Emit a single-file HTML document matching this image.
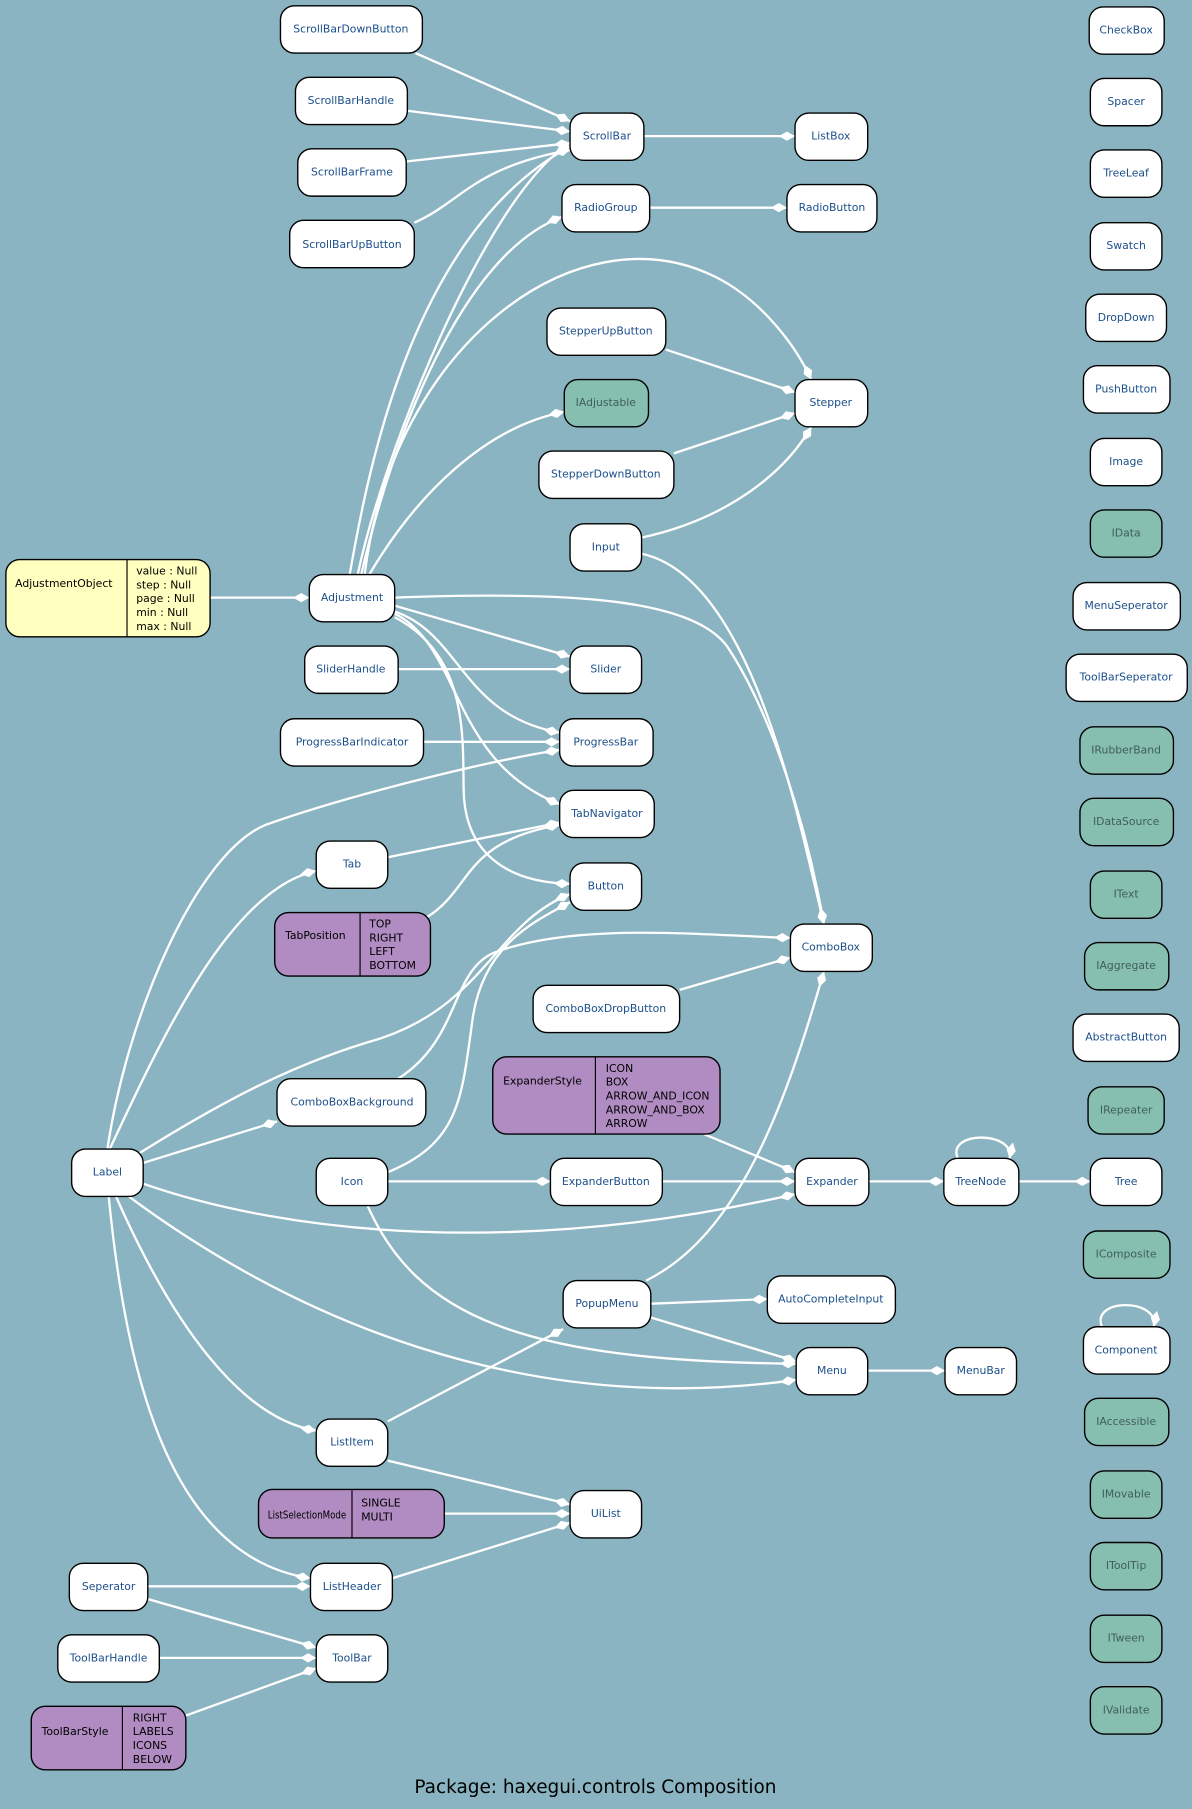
<!DOCTYPE html>
<html><head><meta charset="utf-8"><style>
html,body{margin:0;padding:0;background:#8ab4c1;}
svg{display:block}
text{font-family:"DejaVu Sans","Liberation Sans",sans-serif;font-size:9.4px;}
.n{fill:#fff;stroke:#000;stroke-width:1.2}
.g{fill:#86bfb0;stroke:#000;stroke-width:1.2}
.p{fill:#b08cc2;stroke:#000;stroke-width:1.2}
.y{fill:#ffffc0;stroke:#000;stroke-width:1.2}
.t{fill:#1b4f8a;text-anchor:middle;dominant-baseline:central}
.tg{fill:#3f5f5a;text-anchor:middle;dominant-baseline:central}
.k{fill:#000}
.e{fill:none;stroke:#fff;stroke-width:2;marker-end:url(#d)}
</style></head><body>
<svg width="1192" height="1809" viewBox="0 0 1033 1568" xmlns="http://www.w3.org/2000/svg">
<defs><marker id="d" markerUnits="userSpaceOnUse" markerWidth="16" markerHeight="10" refX="14" refY="5" orient="auto"><path d="M0,5 L7,1 L14,5 L7,9 z" fill="#fff"/></marker></defs>
<rect width="1033" height="1568" fill="#8ab4c1"/>
<g>
<path class="e" d="M360,46 L494,105"/>
<path class="e" d="M353,96 L494,114"/>
<path class="e" d="M352,140 L494,124"/>
<path class="e" d="M359,193 C400,175 410,145 494,130"/>
<path class="e" d="M303,498 C320,400 360,200 494,127"/>
<path class="e" d="M310,498 C330,400 420,170 494,124"/>
<path class="e" d="M313,498 C340,380 400,220 487,188"/>
<path class="e" d="M316,498 C340,300 500,180 620,240 C660,260 690,300 703,329"/>
<path class="e" d="M320,498 C360,430 420,370 489,357"/>
<path class="e" d="M577,303 L689,340"/>
<path class="e" d="M584,393 L689,358"/>
<path class="e" d="M556,466 C630,450 680,410 703,370"/>
<path class="e" d="M556,480 C650,500 690,700 714,801"/>
<path class="e" d="M342,518 C500,512 600,520 630,560 C670,620 700,720 714,801"/>
<path class="e" d="M342,525 L494,569"/>
<path class="e" d="M345,580 L494,580"/>
<path class="e" d="M342,530 C400,550 400,620 485,635"/>
<path class="e" d="M367,643 L485,643"/>
<path class="e" d="M342,532 C400,560 390,660 485,697"/>
<path class="e" d="M342,535 C410,570 400,650 402,690 C405,740 440,765 494,766"/>
<path class="e" d="M93,996 C110,880 170,740 230,715 C300,690 420,660 485,650"/>
<path class="e" d="M95,996 C140,900 200,770 274,755"/>
<path class="e" d="M336,743 L485,713"/>
<path class="e" d="M370,795 C410,770 400,730 485,715"/>
<path class="e" d="M120,1000 C200,950 260,920 330,900 C420,870 430,800 494,775"/>
<path class="e" d="M345,935 C400,900 390,840 430,825 C500,800 600,810 685,813"/>
<path class="e" d="M589,858 L685,830"/>
<path class="e" d="M336,1016 C400,990 400,950 410,880 C420,820 460,800 494,782"/>
<path class="e" d="M124,1008 L240,972"/>
<path class="e" d="M336,1024 L477,1024"/>
<path class="e" d="M574,1024 L689,1024"/>
<path class="e" d="M610,983 L689,1016"/>
<path class="e" d="M124,1026 C250,1070 450,1090 689,1035"/>
<path class="e" d="M753,1024 L818,1024"/>
<path class="e" d="M830,1004 C820,980 880,980 875,1004"/>
<path class="e" d="M883,1024 L945,1024"/>
<path class="e" d="M560,1110 C640,1070 680,960 714,842"/>
<path class="e" d="M564,1130 L665,1126"/>
<path class="e" d="M564,1142 L690,1180"/>
<path class="e" d="M318,1044 C360,1140 450,1180 690,1182"/>
<path class="e" d="M110,1036 C250,1140 450,1230 690,1196"/>
<path class="e" d="M752,1188 L819,1188"/>
<path class="e" d="M100,1036 C150,1150 210,1230 274,1240"/>
<path class="e" d="M336,1232 L488,1152"/>
<path class="e" d="M336,1266 L494,1304"/>
<path class="e" d="M385,1312 L494,1312"/>
<path class="e" d="M340,1368 L494,1320"/>
<path class="e" d="M94,1036 C110,1200 150,1350 269,1368"/>
<path class="e" d="M128,1375 L269,1375"/>
<path class="e" d="M128,1386 L274,1428"/>
<path class="e" d="M138,1437 L274,1437"/>
<path class="e" d="M161,1487 L274,1446"/>
<path class="e" d="M182,518 L268,518"/>
<path class="e" d="M558,118 L689,118"/>
<path class="e" d="M563,180 L682,180"/>
<path class="e" d="M955,1150 C945,1125 1005,1125 1000,1150"/>
</g>
<g>
<rect class="n" x="243" y="5" width="123" height="41" rx="12"/><text class="t" x="304" y="25">ScrollBarDownButton</text>
<rect class="n" x="256" y="67" width="97" height="41" rx="12"/><text class="t" x="304" y="87">ScrollBarHandle</text>
<rect class="n" x="258" y="129" width="94" height="41" rx="12"/><text class="t" x="305" y="149">ScrollBarFrame</text>
<rect class="n" x="251" y="191" width="108" height="41" rx="12"/><text class="t" x="305" y="212">ScrollBarUpButton</text>
<rect class="n" x="494" y="98" width="64" height="41" rx="12"/><text class="t" x="526" y="118">ScrollBar</text>
<rect class="n" x="689" y="98" width="63" height="41" rx="12"/><text class="t" x="720" y="118">ListBox</text>
<rect class="n" x="487" y="160" width="76" height="41" rx="12"/><text class="t" x="525" y="180">RadioGroup</text>
<rect class="n" x="682" y="160" width="78" height="41" rx="12"/><text class="t" x="721" y="180">RadioButton</text>
<rect class="n" x="474" y="267" width="103" height="41" rx="12"/><text class="t" x="525" y="287">StepperUpButton</text>
<rect class="g" x="489" y="329" width="73" height="41" rx="12"/><text class="tg" x="525" y="349">IAdjustable</text>
<rect class="n" x="689" y="329" width="63" height="41" rx="12"/><text class="t" x="720" y="349">Stepper</text>
<rect class="n" x="467" y="391" width="117" height="41" rx="12"/><text class="t" x="525" y="411">StepperDownButton</text>
<rect class="n" x="494" y="454" width="62" height="41" rx="12"/><text class="t" x="525" y="474">Input</text>
<rect class="y" x="5" y="485" width="177" height="67" rx="12"/><line x1="110" y1="485" x2="110" y2="552" stroke="#000"/>
<text class="k" x="13" y="509">AdjustmentObject</text>
<text class="k" x="118" y="498">value : Null</text><text class="k" x="118" y="510">step : Null</text><text class="k" x="118" y="522">page : Null</text><text class="k" x="118" y="534">min : Null</text><text class="k" x="118" y="546">max : Null</text>
<rect class="n" x="268" y="498" width="74" height="41" rx="12"/><text class="t" x="305" y="518">Adjustment</text>
<rect class="n" x="264" y="560" width="81" height="41" rx="12"/><text class="t" x="304" y="580">SliderHandle</text>
<rect class="n" x="494" y="560" width="62" height="41" rx="12"/><text class="t" x="525" y="580">Slider</text>
<rect class="n" x="243" y="623" width="124" height="41" rx="12"/><text class="t" x="305" y="643">ProgressBarIndicator</text>
<rect class="n" x="485" y="623" width="81" height="41" rx="12"/><text class="t" x="525" y="643">ProgressBar</text>
<rect class="n" x="485" y="685" width="82" height="41" rx="12"/><text class="t" x="526" y="705">TabNavigator</text>
<rect class="n" x="274" y="729" width="62" height="41" rx="12"/><text class="t" x="305" y="749">Tab</text>
<rect class="n" x="494" y="748" width="62" height="41" rx="12"/><text class="t" x="525" y="768">Button</text>
<rect class="p" x="238" y="791" width="135" height="55" rx="12"/><line x1="312" y1="791" x2="312" y2="846" stroke="#000"/>
<text class="k" x="247" y="814">TabPosition</text>
<text class="k" x="320" y="804">TOP</text><text class="k" x="320" y="816">RIGHT</text><text class="k" x="320" y="828">LEFT</text><text class="k" x="320" y="840">BOTTOM</text>
<rect class="n" x="685" y="801" width="71" height="41" rx="12"/><text class="t" x="720" y="821">ComboBox</text>
<rect class="n" x="462" y="854" width="127" height="41" rx="12"/><text class="t" x="525" y="874">ComboBoxDropButton</text>
<rect class="p" x="427" y="916" width="197" height="67" rx="12"/><line x1="516" y1="916" x2="516" y2="983" stroke="#000"/>
<text class="k" x="436" y="940">ExpanderStyle</text>
<text class="k" x="525" y="929">ICON</text><text class="k" x="525" y="941">BOX</text><text class="k" x="525" y="953">ARROW_AND_ICON</text><text class="k" x="525" y="965">ARROW_AND_BOX</text><text class="k" x="525" y="977">ARROW</text>
<rect class="n" x="240" y="935" width="129" height="41" rx="12"/><text class="t" x="305" y="955">ComboBoxBackground</text>
<rect class="n" x="62" y="996" width="62" height="41" rx="12"/><text class="t" x="93" y="1016">Label</text>
<rect class="n" x="274" y="1004" width="62" height="41" rx="12"/><text class="t" x="305" y="1024">Icon</text>
<rect class="n" x="477" y="1004" width="97" height="41" rx="12"/><text class="t" x="525" y="1024">ExpanderButton</text>
<rect class="n" x="689" y="1004" width="64" height="41" rx="12"/><text class="t" x="721" y="1024">Expander</text>
<rect class="n" x="818" y="1004" width="65" height="41" rx="12"/><text class="t" x="850" y="1024">TreeNode</text>
<rect class="n" x="945" y="1004" width="62" height="41" rx="12"/><text class="t" x="976" y="1024">Tree</text>
<rect class="n" x="488" y="1110" width="76" height="41" rx="12"/><text class="t" x="526" y="1130">PopupMenu</text>
<rect class="n" x="665" y="1106" width="111" height="41" rx="12"/><text class="t" x="720" y="1126">AutoCompleteInput</text>
<rect class="n" x="690" y="1168" width="62" height="41" rx="12"/><text class="t" x="721" y="1188">Menu</text>
<rect class="n" x="819" y="1168" width="62" height="41" rx="12"/><text class="t" x="850" y="1188">MenuBar</text>
<rect class="n" x="274" y="1230" width="62" height="41" rx="12"/><text class="t" x="305" y="1250">ListItem</text>
<rect class="p" x="224" y="1291" width="161" height="42" rx="12"/><line x1="305" y1="1291" x2="305" y2="1333" stroke="#000"/>
<text class="k" x="232" y="1316" textLength="68" lengthAdjust="spacingAndGlyphs">ListSelectionMode</text>
<text class="k" x="313" y="1306">SINGLE</text><text class="k" x="313" y="1318">MULTI</text>
<rect class="n" x="494" y="1292" width="62" height="41" rx="12"/><text class="t" x="525" y="1312">UiList</text>
<rect class="n" x="60" y="1355" width="68" height="41" rx="12"/><text class="t" x="94" y="1375">Seperator</text>
<rect class="n" x="269" y="1355" width="71" height="41" rx="12"/><text class="t" x="305" y="1375">ListHeader</text>
<rect class="n" x="50" y="1417" width="88" height="41" rx="12"/><text class="t" x="94" y="1437">ToolBarHandle</text>
<rect class="n" x="274" y="1417" width="62" height="41" rx="12"/><text class="t" x="305" y="1437">ToolBar</text>
<rect class="p" x="27" y="1479" width="134" height="55" rx="12"/><line x1="106" y1="1479" x2="106" y2="1534" stroke="#000"/>
<text class="k" x="36" y="1504">ToolBarStyle</text>
<text class="k" x="115" y="1492">RIGHT</text><text class="k" x="115" y="1504">LABELS</text><text class="k" x="115" y="1516">ICONS</text><text class="k" x="115" y="1528">BELOW</text>
</g>
<g>
<rect class="n" x="944" y="6" width="65" height="41" rx="12"/><text class="t" x="976" y="26">CheckBox</text>
<rect class="n" x="945" y="68" width="62" height="41" rx="12"/><text class="t" x="976" y="88">Spacer</text>
<rect class="n" x="945" y="130" width="62" height="41" rx="12"/><text class="t" x="976" y="150">TreeLeaf</text>
<rect class="n" x="945" y="193" width="62" height="41" rx="12"/><text class="t" x="976" y="213">Swatch</text>
<rect class="n" x="941" y="255" width="70" height="41" rx="12"/><text class="t" x="976" y="275">DropDown</text>
<rect class="n" x="939" y="317" width="75" height="41" rx="12"/><text class="t" x="976" y="337">PushButton</text>
<rect class="n" x="945" y="380" width="62" height="41" rx="12"/><text class="t" x="976" y="400">Image</text>
<rect class="g" x="945" y="442" width="62" height="41" rx="12"/><text class="tg" x="976" y="462">IData</text>
<rect class="n" x="930" y="505" width="93" height="41" rx="12"/><text class="t" x="976" y="525">MenuSeperator</text>
<rect class="n" x="924" y="567" width="105" height="41" rx="12"/><text class="t" x="976" y="587">ToolBarSeperator</text>
<rect class="g" x="936" y="630" width="81" height="41" rx="12"/><text class="tg" x="976" y="650">IRubberBand</text>
<rect class="g" x="936" y="692" width="81" height="41" rx="12"/><text class="tg" x="976" y="712">IDataSource</text>
<rect class="g" x="945" y="755" width="62" height="41" rx="12"/><text class="tg" x="976" y="775">IText</text>
<rect class="g" x="940" y="817" width="73" height="41" rx="12"/><text class="tg" x="976" y="837">IAggregate</text>
<rect class="n" x="930" y="879" width="92" height="41" rx="12"/><text class="t" x="976" y="899">AbstractButton</text>
<rect class="g" x="943" y="942" width="66" height="41" rx="12"/><text class="tg" x="976" y="962">IRepeater</text>
<rect class="g" x="939" y="1067" width="75" height="41" rx="12"/><text class="tg" x="976" y="1087">IComposite</text>
<rect class="n" x="939" y="1150" width="75" height="41" rx="12"/><text class="t" x="976" y="1170">Component</text>
<rect class="g" x="940" y="1212" width="73" height="41" rx="12"/><text class="tg" x="976" y="1232">IAccessible</text>
<rect class="g" x="945" y="1275" width="62" height="41" rx="12"/><text class="tg" x="976" y="1295">IMovable</text>
<rect class="g" x="945" y="1337" width="62" height="41" rx="12"/><text class="tg" x="976" y="1357">IToolTip</text>
<rect class="g" x="945" y="1400" width="62" height="41" rx="12"/><text class="tg" x="976" y="1420">ITween</text>
<rect class="g" x="945" y="1462" width="62" height="41" rx="12"/><text class="tg" x="976" y="1482">IValidate</text>
</g>
<text x="516" y="1554" text-anchor="middle" style="font-size:16px" fill="#000">Package: haxegui.controls Composition</text>
</svg>
</body></html>
